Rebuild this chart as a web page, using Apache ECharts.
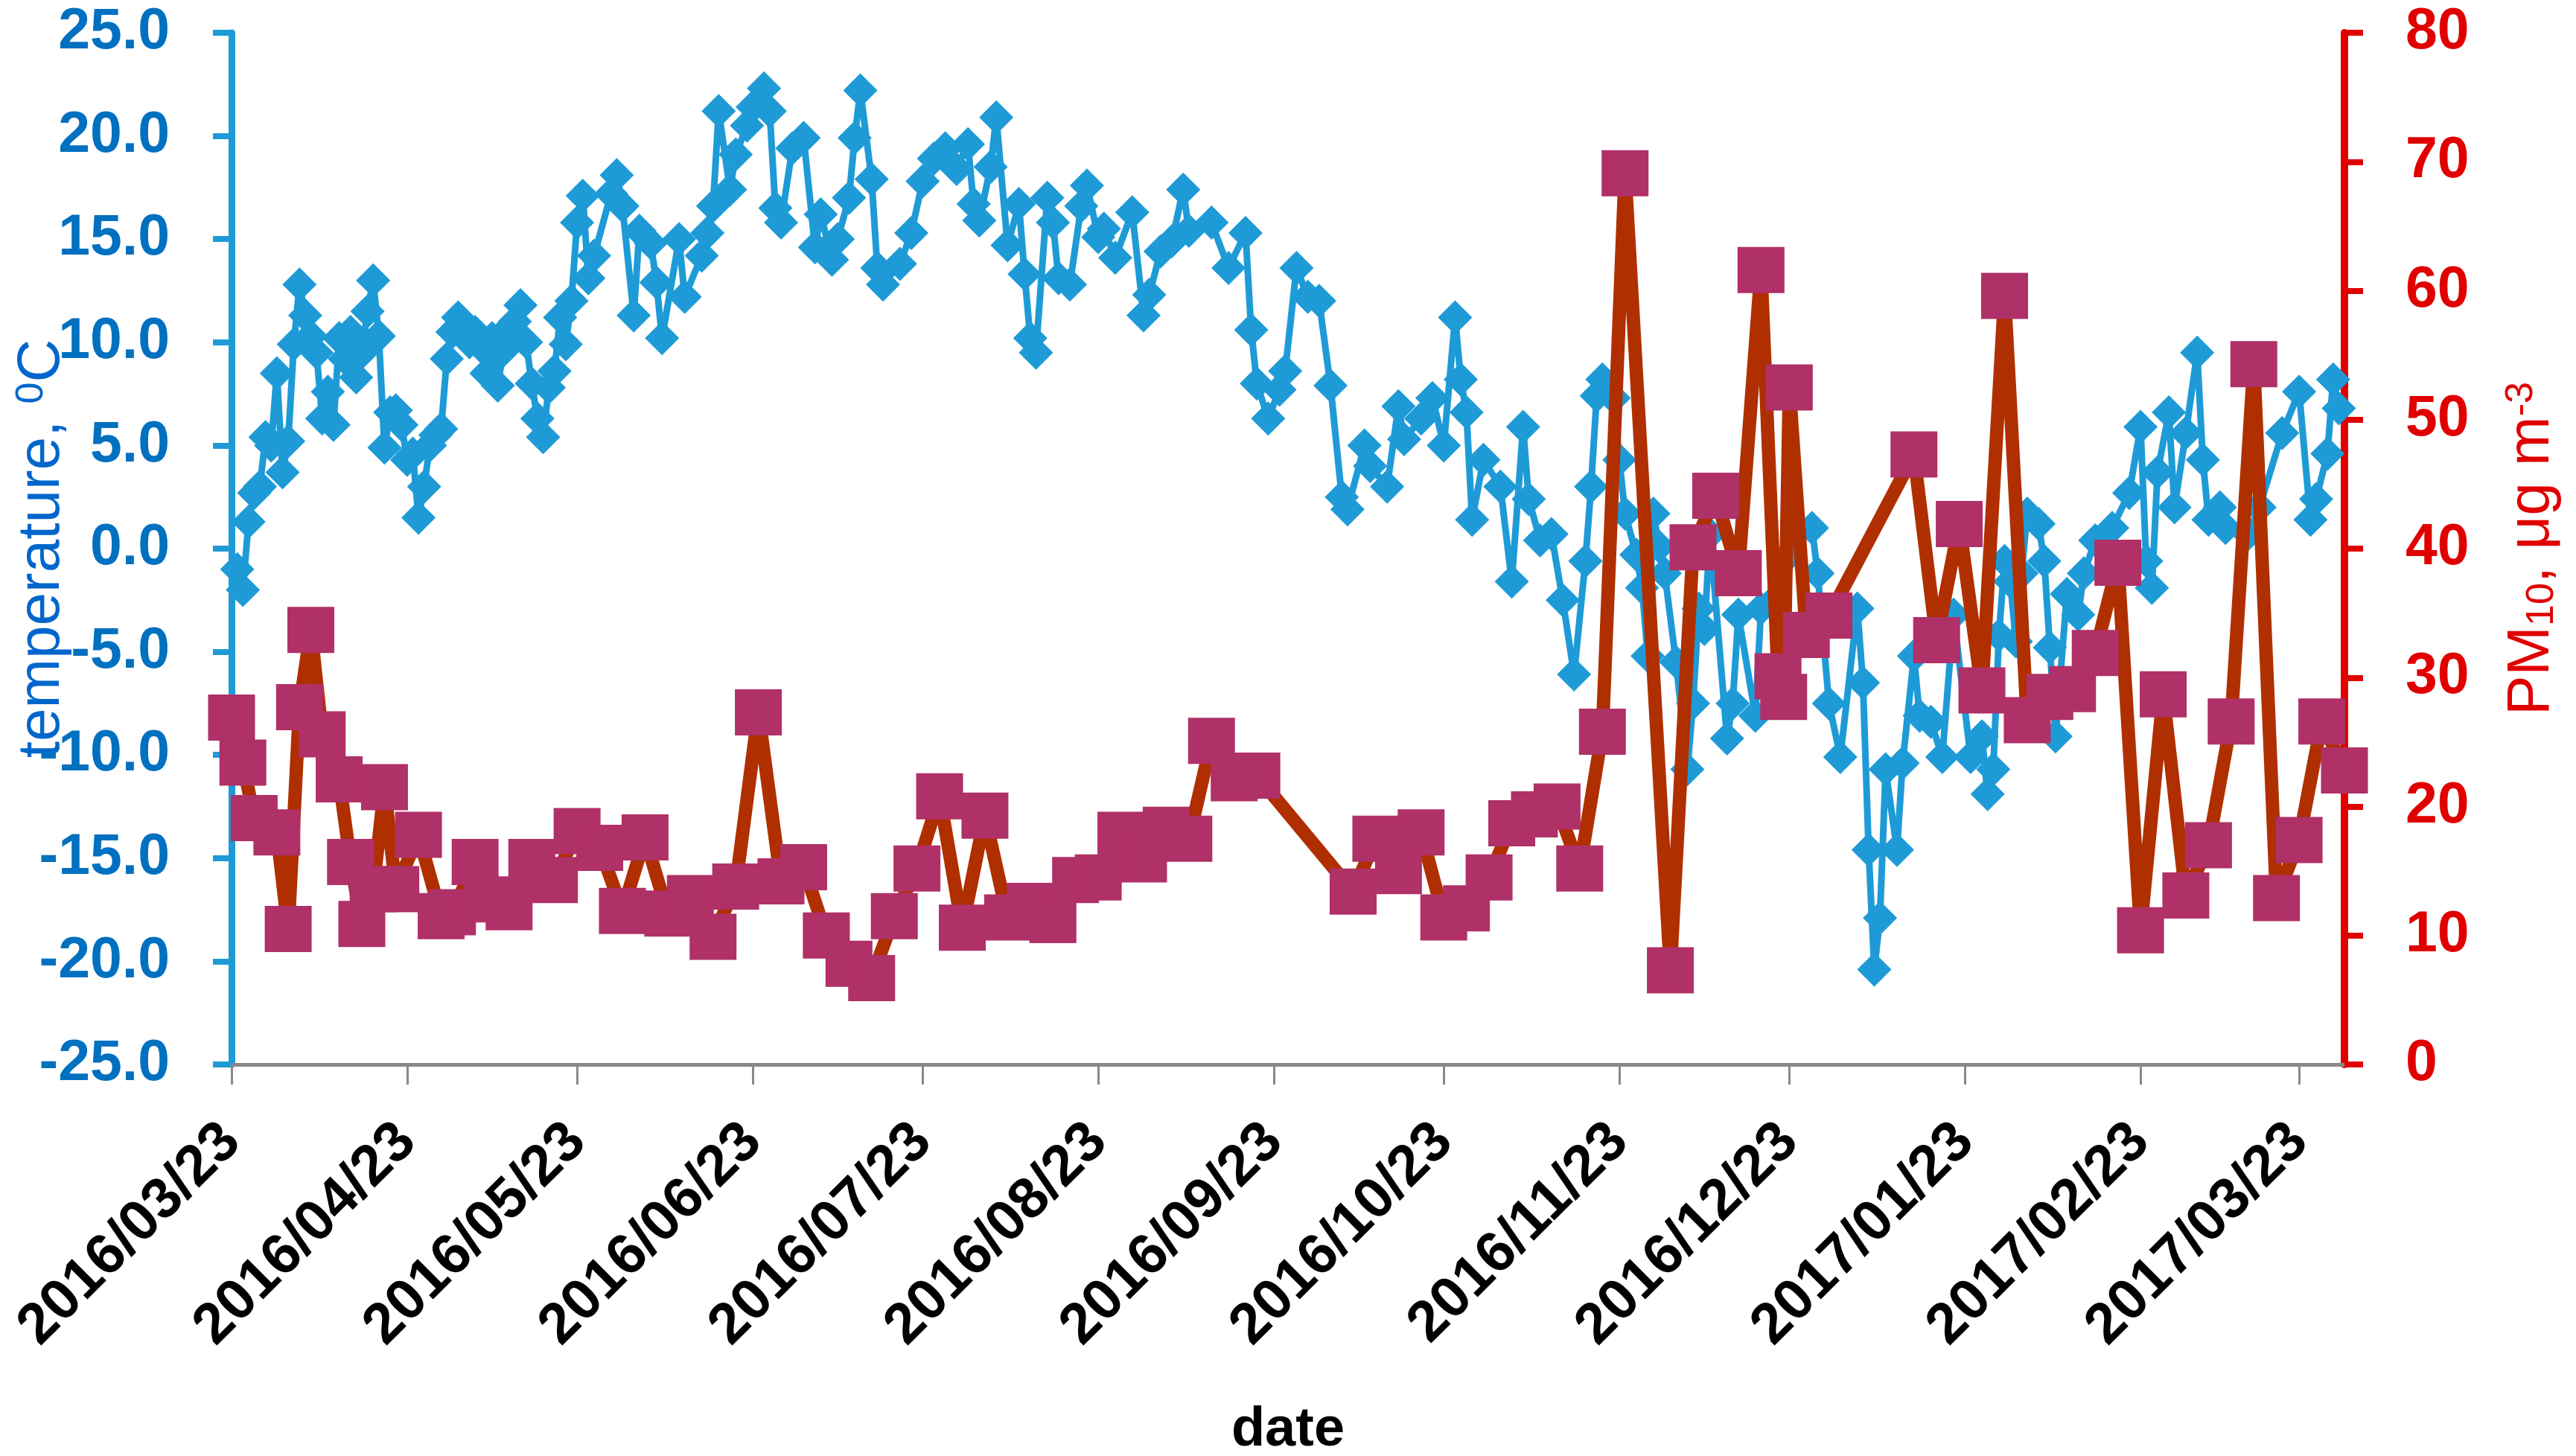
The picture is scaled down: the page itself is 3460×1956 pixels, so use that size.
<!DOCTYPE html>
<html>
<head>
<meta charset="utf-8">
<script src="https://cdn.jsdelivr.net/npm/echarts@6/dist/echarts.min.js"></script>
<style>
html,body{margin:0;padding:0;background:#ffffff;}
#chart{width:3460px;height:1956px;}
</style>
</head>
<body>
<div id="chart"></div>
<script>
// ---------------- DATA ----------------
// Axis range: 2016/03/23 .. 2017/03/31 (daily)
const axisStart = [2016, 3, 23];
const axisEnd = [2017, 3, 31];

// temperature, °C : [day of month, value]
const temp2016Mar = [[24,-1.0],[25,-2.0],[26,1.3],[27,2.7],[28,3.0],[29,5.4],[30,5.0],[31,8.5]];
const temp2016Apr = [[1,3.7],[2,5.2],[3,9.9],[4,12.8],[5,11.3],[6,10.3],[7,9.5],[8,6.3],[9,7.6],[10,6.0],[11,10.2],[12,9.2],[13,10.5],[14,8.3],[15,9.5],[16,11.5],[17,13.0],[18,10.3],[19,4.9],[20,6.6],[21,6.7],[22,6.0],[23,4.3],[24,4.6],[25,1.5],[26,3.0],[27,5.0],[28,5.5],[29,5.8],[30,9.2]];
const temp2016May = [[1,10.5],[2,11.2],[3,10.6],[4,10.0],[5,10.5],[6,9.8],[7,8.5],[8,10.2],[9,7.9],[10,9.6],[11,10.7],[12,11.0],[13,11.8],[14,10.0],[15,8.0],[16,6.3],[17,5.4],[18,7.8],[19,8.6],[20,11.2],[21,9.9],[22,12.0],[23,15.8],[24,17.1],[25,13.1],[26,14.2],[29,17.2],[30,18.1],[31,16.6]];
const temp2016Jun = [[2,11.3],[3,15.4],[5,14.8],[6,12.9],[7,10.2],[10,15.0],[11,12.2],[14,14.2],[15,15.3],[16,16.6],[17,21.2],[19,17.4],[20,19.1],[22,20.5],[23,21.4],[25,22.3],[26,21.2],[27,16.5],[28,15.8],[30,19.4]];
const temp2016Jul = [[2,19.9],[4,14.6],[5,16.2],[7,14.0],[8,15.0],[10,17.0],[11,19.9],[12,22.2],[14,17.9],[15,13.6],[16,12.8],[19,13.8],[21,15.3],[23,17.8],[25,18.9],[27,19.4],[29,18.4],[31,19.6]];
const temp2016Aug = [[1,16.7],[2,15.9],[4,18.5],[5,20.9],[7,14.7],[9,16.7],[10,13.3],[11,10.2],[12,9.5],[14,17.0],[15,15.8],[16,13.1],[18,12.8],[20,16.6],[21,17.6],[23,15.1],[24,15.5],[26,14.1],[29,16.3],[31,11.3]];
const temp2016Sep = [[1,12.3],[3,14.4],[5,14.9],[7,17.4],[8,15.4],[12,15.8],[15,13.6],[18,15.3],[19,10.6],[20,8.0],[22,6.3],[24,7.7],[25,8.6],[27,13.6],[29,12.2]];
const temp2016Oct = [[1,12.0],[3,7.9],[5,2.5],[6,1.9],[9,5.0],[10,4.0],[13,3.0],[15,6.9],[16,5.3],[19,6.3],[21,7.3],[23,5.0],[25,11.2],[26,8.2],[27,6.6],[28,1.4],[30,4.3]];
const temp2016Nov = [[2,3.0],[4,-1.6],[6,5.9],[7,2.4],[9,0.4],[11,0.7],[13,-2.5],[15,-6.1],[17,-0.6],[18,3.0],[19,7.4],[20,8.2],[22,7.3],[23,4.3],[24,1.7],[26,-0.3],[27,-1.9],[28,-5.2],[29,1.7],[30,0.1]];
const temp2016Dec = [[1,-1.2],[3,-5.5],[5,-10.7],[6,-7.5],[7,-2.9],[8,-3.9],[9,0.7],[12,-9.2],[13,-7.5],[14,-3.2],[17,-8.1],[18,-2.9],[20,-2.6],[23,-0.3],[27,1.0],[28,-1.2],[30,-7.5]];
const temp2017Jan = [[1,-10.1],[4,-2.9],[5,-6.5],[6,-14.6],[7,-20.4],[8,-17.9],[9,-10.7],[11,-14.6],[12,-10.4],[14,-5.2],[15,-8.1],[17,-8.4],[19,-10.1],[21,-3.2],[24,-10.1],[26,-9.1],[27,-11.9],[28,-10.7],[29,-4.2],[30,-0.6],[31,-1.6]];
const temp2017Feb = [[1,-4.5],[2,-1.2],[3,1.7],[5,1.2],[6,-0.6],[7,-4.8],[8,-9.1],[10,-2.2],[12,-3.2],[13,-1.2],[15,0.4],[18,1.0],[21,2.7],[23,5.9],[24,-0.6],[25,-1.9],[26,3.7],[28,6.6]];
const temp2017Mar = [[1,2.0],[3,5.6],[5,9.5],[6,4.3],[7,1.4],[9,2.0],[10,1.0],[14,0.7],[16,2.0],[20,5.6],[23,7.6],[25,1.4],[26,2.4],[28,4.6],[29,8.2],[30,6.8]];

// PM10, µg m-3 : [day of month, value]
const pm2016Mar = [[23,26.9],[25,23.4],[27,19.1],[31,18.0]];
const pm2016Apr = [[2,10.5],[4,27.7],[6,33.7],[8,25.6],[11,22.1],[13,15.7],[15,10.9],[17,13.6],[19,21.5],[21,13.6],[25,17.8],[29,11.5]];
const pm2016May = [[1,11.8],[5,15.7],[7,12.8],[11,12.2],[15,15.7],[19,14.3],[23,18.1],[27,16.8],[31,11.9]];
const pm2016Jun = [[4,17.6],[8,11.7],[12,12.9],[16,9.9],[20,13.8],[24,27.3],[28,14.2]];
const pm2016Jul = [[2,15.3],[6,10.0],[10,7.8],[14,6.7],[18,11.5],[22,15.2],[26,20.8],[30,10.6]];
const pm2016Aug = [[3,19.3],[7,11.4],[11,12.3],[15,11.2],[19,14.3],[23,14.5],[27,17.8],[31,15.9]];
const pm2016Sep = [[4,18.2],[8,17.5],[12,25.1],[16,22.2],[20,22.4]];
const pm2016Oct = [[7,13.4],[11,17.5],[15,15.0],[19,18.0],[23,11.4],[27,12.1],[31,14.5]];
const pm2016Nov = [[4,18.7],[8,19.4],[12,20.0],[16,15.2],[20,25.8],[24,69.1]];
const pm2016Dec = [[2,7.3],[6,40.1],[10,44.1],[14,38.1],[18,61.6],[21,30.1],[22,28.5],[23,52.5],[26,33.3],[30,34.8]];
const pm2017Jan = [[14,47.3],[18,32.9],[22,41.9],[26,29.0],[30,59.6]];
const pm2017Feb = [[3,26.7],[7,28.5],[11,29.1],[15,31.9],[19,38.9],[23,10.4],[27,28.7]];
const pm2017Mar = [[3,13.1],[7,17.0],[11,26.6],[15,54.3],[19,12.9],[23,17.4],[27,26.6],[31,22.8]];

const tempMonths = [[2016,3,temp2016Mar],[2016,4,temp2016Apr],[2016,5,temp2016May],[2016,6,temp2016Jun],[2016,7,temp2016Jul],[2016,8,temp2016Aug],[2016,9,temp2016Sep],[2016,10,temp2016Oct],[2016,11,temp2016Nov],[2016,12,temp2016Dec],[2017,1,temp2017Jan],[2017,2,temp2017Feb],[2017,3,temp2017Mar]];
const pmMonths = [[2016,3,pm2016Mar],[2016,4,pm2016Apr],[2016,5,pm2016May],[2016,6,pm2016Jun],[2016,7,pm2016Jul],[2016,8,pm2016Aug],[2016,9,pm2016Sep],[2016,10,pm2016Oct],[2016,11,pm2016Nov],[2016,12,pm2016Dec],[2017,1,pm2017Jan],[2017,2,pm2017Feb],[2017,3,pm2017Mar]];

// ---------------- build category axis and series ----------------
function pad(n){return (n<10?'0':'')+n;}
function key(y,m,d){return y+'/'+pad(m)+'/'+pad(d);}
const categories = [];
const indexOf = {};
(function(){
  let t = Date.UTC(axisStart[0], axisStart[1]-1, axisStart[2]);
  const end = Date.UTC(axisEnd[0], axisEnd[1]-1, axisEnd[2]);
  while (t <= end) {
    const dt = new Date(t);
    const k = key(dt.getUTCFullYear(), dt.getUTCMonth()+1, dt.getUTCDate());
    indexOf[k] = categories.length;
    categories.push(k);
    t += 86400000;
  }
})();
function toSeries(months){
  const out = categories.map(() => null);
  months.forEach(([y,m,arr]) => arr.forEach(([d,v]) => {
    const i = indexOf[key(y,m,d)];
    if (i !== undefined) out[i] = v;
  }));
  return out;
}
const tempData = toSeries(tempMonths);
const pmData = toSeries(pmMonths);

const isTick = (i, v) => v.slice(8) === '23';
const FONT = "'Liberation Sans', Arial, sans-serif";

const chart = echarts.init(document.getElementById('chart'), null, {renderer:'canvas'});
chart.setOption({
  backgroundColor: '#ffffff',
  animation: false,
  grid: {left: 311, right: 311, top: 44, bottom: 526, containLabel: false, outerBoundsMode: 'none'},
  xAxis: {
    type: 'category',
    data: categories,
    boundaryGap: false,
    axisLine: {onZero: false, lineStyle: {color: '#898989', width: 5}},
    axisTick: {show: true, interval: isTick, length: 27, lineStyle: {color: '#898989', width: 3}},
    axisLabel: {interval: isTick, rotate: 45, margin: 92, color: '#000000', fontSize: 77, fontWeight: 'bold', fontFamily: FONT, hideOverlap: false},
    splitLine: {show: false},
    name: 'date',
    nameLocation: 'middle',
    nameGap: 455,
    nameMoveOverlap: false,
    nameTextStyle: {color: '#000000', fontSize: 74, fontWeight: 'bold', fontFamily: FONT}
  },
  yAxis: [
    {
      type: 'value', position: 'left', min: -25, max: 25, interval: 5,
      axisLine: {show: true, lineStyle: {color: '#1E9BD7', width: 9}},
      axisTick: {show: true, length: 25, lineStyle: {color: '#1E9BD7', width: 8}},
      axisLabel: {margin: 83, color: '#0070C0', fontSize: 77, fontWeight: 'bold', fontFamily: FONT, formatter: v => v.toFixed(1)},
      splitLine: {show: false},
      name: 'temperature, {sup|0}C',
      nameLocation: 'middle',
      nameRotate: 90,
      nameGap: 214,
      nameMoveOverlap: false,
      nameTextStyle: {color: '#0066CC', fontSize: 80, fontFamily: FONT,
        rich: {sup: {fontSize: 52, verticalAlign: 'top', color: '#0066CC', fontFamily: FONT, padding: [0,0,28,0]}}}
    },
    {
      type: 'value', position: 'right', min: 0, max: 80, interval: 10,
      axisLine: {show: true, lineStyle: {color: '#E00000', width: 10}},
      axisTick: {show: true, length: 25, lineStyle: {color: '#E00000', width: 8}},
      axisLabel: {margin: 82, color: '#E00000', fontSize: 77, fontWeight: 'bold', fontFamily: FONT},
      splitLine: {show: false},
      name: 'PM{sub|10}, μg m{sup|-3}',
      nameLocation: 'middle',
      nameRotate: 90,
      nameGap: 212,
      nameMoveOverlap: false,
      nameTextStyle: {color: '#E00000', fontSize: 80, fontFamily: FONT,
        rich: {
          sub: {fontSize: 52, color: '#E00000', fontFamily: FONT, verticalAlign: 'bottom', padding: [28,0,0,0]},
          sup: {fontSize: 52, color: '#E00000', fontFamily: FONT, verticalAlign: 'top', padding: [0,0,28,0]}
        }}
    }
  ],
  series: [
    {
      name: 'temperature', type: 'line', yAxisIndex: 0, data: tempData,
      connectNulls: true, showAllSymbol: true,
      symbol: 'diamond', symbolSize: 46,
      itemStyle: {color: '#1E9BD7'},
      lineStyle: {color: '#1E9BD7', width: 9},
      z: 2
    },
    {
      name: 'PM10', type: 'line', yAxisIndex: 1, data: pmData,
      connectNulls: true, showAllSymbol: true,
      symbol: 'rect', symbolSize: [63, 62],
      itemStyle: {color: '#B03068'},
      lineStyle: {color: '#B02F00', width: 18},
      z: 3
    }
  ]
});
</script>
</body>
</html>
